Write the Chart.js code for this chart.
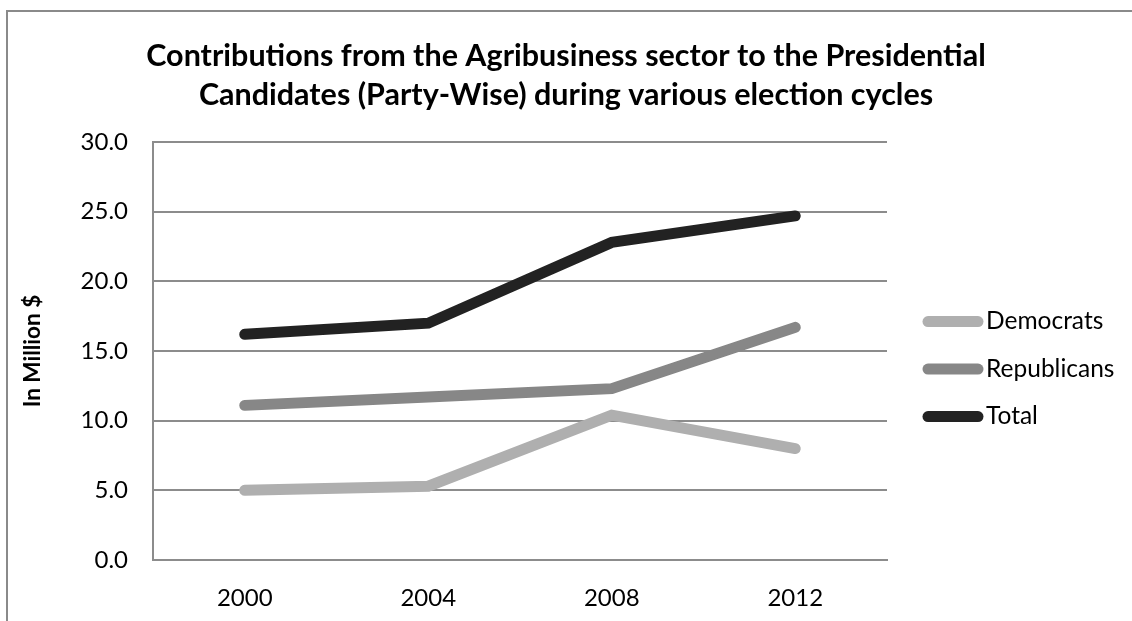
<!DOCTYPE html>
<html>
<head>
<meta charset="utf-8">
<title>Agribusiness contributions</title>
<script src="https://cdn.jsdelivr.net/npm/chart.js@4.4.1/dist/chart.umd.min.js"></script>
<style>
  html, body { margin: 0; padding: 0; background: #fff; }
  #wrap { position: relative; width: 1132px; height: 621px; overflow: hidden; }
  #wrap canvas { position: absolute; left: 0; top: 0; }
  /* cropped chart frame: only top and left edges show */
  #frame {
    position: absolute; left: 6px; top: 10px; right: -4px; bottom: -4px;
    border-top: 2px solid #8a8a8a; border-left: 2px solid #8a8a8a;
    pointer-events: none;
  }
</style>
</head>
<body>
<div id="wrap">
  <canvas id="chart" width="1132" height="621"></canvas>
  <div id="frame"></div>
</div>
<script>
// values (million $)
const years = ['2000', '2004', '2008', '2012'];
const democrats = [5.0, 5.3, 10.4, 8.0];
const republicans = [11.1, 11.7, 12.3, 16.7];
const total = [16.2, 17.0, 22.8, 24.7];
const yTicks = [0, 5, 10, 15, 20, 25, 30];

const FONT = "'Lato', 'Open Sans', sans-serif";
const GRID = '#8c8c8c';

// legend drawn in a box reserved on the right of the plot
const sideLegend = {
  id: 'sideLegend',
  start(chart) {
    const box = {
      position: 'right',
      weight: 0,
      fullSize: false,
      options: {},
      left: 0, top: 0, right: 0, bottom: 0, width: 0, height: 0,
      isHorizontal() { return false; },
      update(maxWidth, maxHeight) {
        this.width = 245;
        this.height = maxHeight;
      },
      draw() {
        const ctx = chart.ctx;
        const area = chart.chartArea;
        const mid = (area.top + area.bottom) / 2 + 18;
        const step = 47.5;
        const n = chart.data.datasets.length;
        ctx.save();
        chart.data.datasets.forEach((ds, i) => {
          const y = mid + (i - (n - 1) / 2) * step;
          const x0 = this.left + 41;
          ctx.beginPath();
          ctx.strokeStyle = ds.borderColor;
          ctx.lineWidth = ds.borderWidth;
          ctx.lineCap = 'round';
          ctx.moveTo(x0, y);
          ctx.lineTo(x0 + 50, y);
          ctx.stroke();
          ctx.fillStyle = '#000';
          ctx.font = '24.5px ' + FONT;
          ctx.textBaseline = 'middle';
          ctx.textAlign = 'left';
          ctx.fillText(ds.label, this.left + 99, y);
        });
        ctx.restore();
      }
    };
    Chart.layouts.addBox(chart, box);
  }
};

const line = (label, values, color) => ({
  label,
  data: values,
  borderColor: color,
  backgroundColor: color,
  borderWidth: 11,
  borderCapStyle: 'round',
  pointRadius: 0,
  pointHoverRadius: 0,
  tension: 0,
  fill: false,
});

new Chart(document.getElementById('chart'), {
  type: 'line',
  data: {
    labels: years,
    datasets: [
      line('Democrats', democrats, '#afafaf'),
      line('Republicans', republicans, '#878787'),
      line('Total', total, '#222222'),
    ],
  },
  plugins: [sideLegend],
  options: {
    responsive: false,
    animation: false,
    layout: { padding: 0 },
    plugins: {
      legend: { display: false },
      tooltip: { enabled: false },
      title: {
        display: true,
        text: [
          'Contributions from the Agribusiness sector to the Presidential',
          'Candidates (Party-Wise) during various election cycles',
        ],
        color: '#000',
        font: { family: FONT, size: 30.5, weight: 'bold', lineHeight: 1.28 },
        padding: { top: 37, bottom: 27 },
      },
    },
    scales: {
      x: {
        offset: true,
        grid: { display: false, drawTicks: false },
        border: { display: true, color: GRID, width: 2 },
        ticks: { color: '#000', font: { family: FONT, size: 24 }, padding: 24 },
        afterFit: (s) => { s.height = 61; },
      },
      y: {
        min: 0,
        max: 30,
        afterBuildTicks: (s) => { s.ticks = yTicks.map((v) => ({ value: v })); },
        grid: { color: GRID, lineWidth: 2, drawTicks: false },
        border: { display: true, color: GRID, width: 2 },
        ticks: {
          color: '#000',
          font: { family: FONT, size: 24 },
          padding: 25,
          callback: (v) => Number(v).toFixed(1),
        },
        title: {
          display: true,
          text: 'In Million $',
          color: '#000',
          font: { family: FONT, size: 22.5, weight: 'bold' },
          padding: { top: 19, bottom: 0 },
        },
        afterFit: (s) => { s.width = 153; },
      },
    },
  },
});
</script>
</body>
</html>
